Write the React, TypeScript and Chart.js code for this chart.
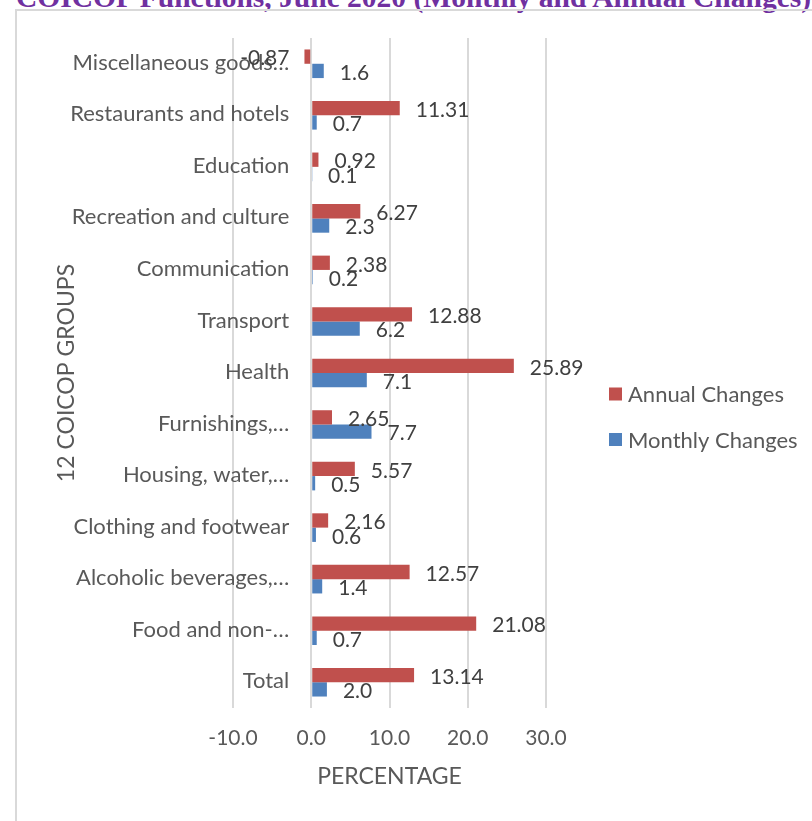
import React, { useEffect, useRef } from "react";
import { Chart, registerables } from "chart.js";

Chart.register(...registerables);

const categories = [
  "Miscellaneous goods\u2026",
  "Restaurants and hotels",
  "Education",
  "Recreation and culture",
  "Communication",
  "Transport",
  "Health",
  "Furnishings,\u2026",
  "Housing, water,\u2026",
  "Clothing and footwear",
  "Alcoholic beverages,\u2026",
  "Food and non-\u2026",
  "Total",
];
const annualChanges = [-0.87, 11.31, 0.92, 6.27, 2.38, 12.88, 25.89, 2.65, 5.57, 2.16, 12.57, 21.08, 13.14];
const monthlyChanges = [1.6, 0.7, 0.1, 2.3, 0.2, 6.2, 7.1, 7.7, 0.5, 0.6, 1.4, 0.7, 2.0];
const seriesNames = ["Annual Changes", "Monthly Changes"];
const seriesColors = ["#C0504D", "#4F81BD"];
const seriesDecimals = [2, 1];
const xMin = -10;
const xMax = 30;
const xStep = 10;
const titleText = "COICOP Functions, June 2020 (Monthly and Annual Changes)";
const yTitle = "12 COICOP GROUPS";
const xTitle = "PERCENTAGE";

const FONT = "Lato";
const TEXT = "#595959";

// category labels drawn next to the zero line (Excel style: axis crosses at 0)
const categoryLabelPlugin = {
  id: "categoryLabels",
  beforeDatasetsDraw(chart: any) {
    const ctx = chart.ctx;
    const xs = chart.scales.x;
    const ys = chart.scales.y;
    const x = xs.getPixelForValue(0) - 22;
    ctx.save();
    ctx.font = `22px ${FONT}`;
    ctx.fillStyle = TEXT;
    ctx.textAlign = "right";
    ctx.textBaseline = "middle";
    (chart.data.labels as string[]).forEach((lab, i) => {
      ctx.fillText(lab, x, ys.getPixelForValue(i) - 1);
    });
    ctx.restore();
  },
};

const barLabelPlugin = {
  id: "barLabels",
  afterDatasetsDraw(chart: any) {
    const ctx = chart.ctx;
    ctx.save();
    ctx.font = `21px ${FONT}`;
    ctx.fillStyle = "#404040";
    ctx.textBaseline = "middle";
    chart.data.datasets.forEach((ds: any, di: number) => {
      const meta = chart.getDatasetMeta(di);
      meta.data.forEach((el: any, i: number) => {
        const v = ds.data[i] as number;
        const txt = v.toFixed(seriesDecimals[di]);
        if (v >= 0) {
          ctx.textAlign = "left";
          ctx.fillText(txt, el.x + 16, el.y + 2);
        } else {
          ctx.textAlign = "right";
          ctx.fillText(txt, el.x - 15, el.y + 2);
        }
      });
    });
    ctx.restore();
  },
};

const sideLegendPlugin = {
  id: "sideLegend",
  afterDraw(chart: any) {
    const ctx = chart.ctx;
    const area = chart.chartArea;
    const mid = (area.top + area.bottom) / 2;
    const x0 = area.right + 63;
    ctx.save();
    ctx.font = `22px ${FONT}`;
    ctx.textBaseline = "middle";
    ctx.textAlign = "left";
    chart.data.datasets.forEach((ds: any, i: number) => {
      const cy = mid + 21 + i * 45.5;
      ctx.fillStyle = ds.backgroundColor;
      ctx.fillRect(x0, cy - 6.5, 13, 13);
      ctx.fillStyle = TEXT;
      ctx.fillText(ds.label, x0 + 19, cy + 1);
    });
    ctx.restore();
  },
};

export default function App() {
  const canvasRef = useRef<HTMLCanvasElement | null>(null);

  useEffect(() => {
    if (!canvasRef.current) return;
    const chart = new Chart(canvasRef.current, {
      type: "bar",
      data: {
        labels: categories,
        datasets: [
          {
            label: seriesNames[0],
            data: annualChanges,
            backgroundColor: seriesColors[0],
            categoryPercentage: 0.555,
            barPercentage: 1.0,
          },
          {
            label: seriesNames[1],
            data: monthlyChanges,
            backgroundColor: seriesColors[1],
            categoryPercentage: 0.555,
            barPercentage: 1.0,
          },
        ],
      },
      options: {
        indexAxis: "y",
        animation: false,
        responsive: false,
        devicePixelRatio: 1,
        layout: { padding: { top: 27, right: 266, left: 0, bottom: 0 } },
        plugins: {
          legend: { display: false },
          tooltip: { enabled: false },
          title: { display: false },
        },
        scales: {
          x: {
            type: "linear",
            min: xMin,
            max: xMax,
            ticks: {
              stepSize: xStep,
              padding: 18,
              color: TEXT,
              font: { family: FONT, size: 21 },
              callback: (v: any) => Number(v).toFixed(1),
            },
            grid: { color: "#d9d9d9", lineWidth: 2, drawTicks: false },
            border: { display: false },
            title: {
              display: true,
              text: xTitle,
              color: TEXT,
              font: { family: FONT, size: 23 },
              padding: { top: 0, bottom: 31 },
            },
            afterFit: (scale: any) => {
              scale.height = 113;
            },
          },
          y: {
            type: "category",
            ticks: { display: false },
            grid: { display: false, drawTicks: false },
            border: { display: false },
            title: {
              display: true,
              text: yTitle,
              color: TEXT,
              font: { family: FONT, size: 23 },
              padding: { top: 36, bottom: 0 },
            },
            afterFit: (scale: any) => {
              scale.width = 216;
            },
          },
        },
      },
      plugins: [categoryLabelPlugin, barLabelPlugin, sideLegendPlugin],
    });
    return () => chart.destroy();
  }, []);

  return (
    <div
      style={{
        position: "fixed",
        left: 0,
        top: 0,
        width: 812,
        height: 821,
        overflow: "hidden",
        background: "#ffffff",
      }}
    >
      <div
        style={{
          position: "absolute",
          left: 16,
          top: -17,
          whiteSpace: "nowrap",
          fontFamily: '"Liberation Serif", serif',
          fontWeight: "bold",
          fontSize: 29.5,
          lineHeight: "29px",
          color: "#7030A0",
        }}
      >
        {titleText}
      </div>
      <div
        style={{
          position: "absolute",
          left: 15,
          top: 9,
          width: 830,
          height: 840,
          border: "2px solid #d9d9d9",
          boxSizing: "border-box",
        }}
      >
        <canvas
          ref={canvasRef}
          width={795}
          height={810}
          style={{ position: "absolute", left: 0, top: 0, width: 795, height: 810 }}
        />
      </div>
    </div>
  );
}
